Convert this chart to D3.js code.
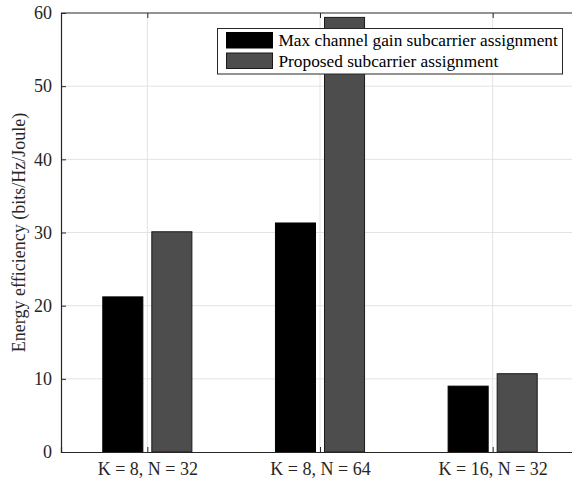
<!DOCTYPE html>
<html>
<head>
<meta charset="utf-8">
<script src="https://cdn.jsdelivr.net/npm/d3@7/dist/d3.min.js"></script>
<style>
  html, body { margin: 0; padding: 0; background: #fff; }
  svg { display: block; }
</style>
</head>
<body>
<svg id="chart" width="572" height="483"></svg>
<script>
// Energy efficiency for each (K, N) configuration
const categories = ["K = 8, N = 32", "K = 8, N = 64", "K = 16, N = 32"];
const seriesNames = ["Max channel gain subcarrier assignment", "Proposed subcarrier assignment"];
const maxGainValues = [21.2, 31.3, 9.0];
const proposedValues = [30.1, 59.4, 10.7];
const yTicks = [0, 10, 20, 30, 40, 50, 60];

const seriesValues = [maxGainValues, proposedValues];
const seriesFill = ["#000000", "#4d4d4d"];
const seriesStroke = ["#000000", "#1a1a1a"];

const FONT = "Liberation Serif";
const W = 572, H = 483;
const margin = { left: 61, top: 13, right: -7, bottom: 31 };
const plotW = W - margin.left - margin.right;
const plotH = H - margin.top - margin.bottom;

const svg = d3.select("#chart");
const g = svg.append("g").attr("transform", `translate(${margin.left},${margin.top})`);

// Category positions 1..3 on a continuous axis from 0.5 to 3.5
const x = d3.scaleLinear().domain([0.5, 3.5]).range([0, plotW]);
const y = d3.scaleLinear().domain([0, 60]).range([plotH, 0]);

const barWidth = 0.232;   // in category units
const barOffset = 0.142;  // centre offset of each series from the tick

// Grid lines
g.append("g").selectAll("line").data(yTicks.slice(1, -1)).join("line")
  .attr("x1", 0).attr("x2", plotW)
  .attr("y1", d => y(d)).attr("y2", d => y(d))
  .attr("stroke", "#e3e3e3").attr("stroke-width", 1);
g.append("g").selectAll("line").data(categories).join("line")
  .attr("x1", (d, i) => x(i + 1)).attr("x2", (d, i) => x(i + 1))
  .attr("y1", 0).attr("y2", plotH)
  .attr("stroke", "#e3e3e3").attr("stroke-width", 1);

// Bars
seriesValues.forEach((vals, s) => {
  const off = s === 0 ? -barOffset : barOffset;
  g.append("g").selectAll("rect").data(vals).join("rect")
    .attr("x", (d, i) => x(i + 1 + off - barWidth / 2))
    .attr("width", x(barWidth) - x(0))
    .attr("y", d => y(d))
    .attr("height", d => y(0) - y(d))
    .attr("fill", seriesFill[s])
    .attr("stroke", seriesStroke[s])
    .attr("stroke-width", 1);
});

// Axes: box with inward ticks
const axisColor = "#262626";
const yAxis = d3.axisLeft(y).tickValues(yTicks).tickSize(-5).tickPadding(9).tickFormat(d3.format("d"));
const yAx = g.append("g").call(yAxis);
const xAxis = d3.axisBottom(x).tickValues([1, 2, 3]).tickSize(-5).tickPadding(10)
  .tickFormat(d => categories[d - 1]);
const xAx = g.append("g").attr("transform", `translate(0,${plotH})`).call(xAxis);
const xTop = g.append("g").call(d3.axisTop(x).tickValues([1, 2, 3]).tickSize(-5).tickFormat(""));
[yAx, xAx, xTop].forEach(a => {
  a.select(".domain").attr("stroke", axisColor).attr("stroke-width", 1.2);
  a.selectAll(".tick line").attr("stroke", axisColor);
  a.selectAll(".tick text").attr("fill", "#262626")
    .style("font-family", FONT).style("font-size", "18px");
});
xTop.select(".domain").attr("d", `M0,0H${plotW}`);

// Y axis title
svg.append("text")
  .attr("transform", `translate(25,${margin.top + plotH / 2}) rotate(-90)`)
  .attr("text-anchor", "middle")
  .style("font-family", FONT).style("font-size", "18px")
  .attr("fill", "#262626")
  .text("Energy efficiency (bits/Hz/Joule)");

// Legend
const lg = svg.append("g").attr("transform", "translate(217.5,28.5)");
lg.append("rect").attr("width", 345).attr("height", 45.5)
  .attr("fill", "#fff").attr("stroke", "#262626").attr("stroke-width", 1);
seriesNames.forEach((name, s) => {
  const row = lg.append("g").attr("transform", `translate(0,${4 + s * 20.5})`);
  row.append("rect").attr("x", 9).attr("y", 0).attr("width", 46).attr("height", 15.5)
    .attr("fill", seriesFill[s]).attr("stroke", seriesStroke[s]);
  row.append("text").attr("x", 61).attr("y", 13.5)
    .style("font-family", FONT).style("font-size", "17.3px")
    .attr("fill", "#000").text(name);
});
</script>
</body>
</html>
